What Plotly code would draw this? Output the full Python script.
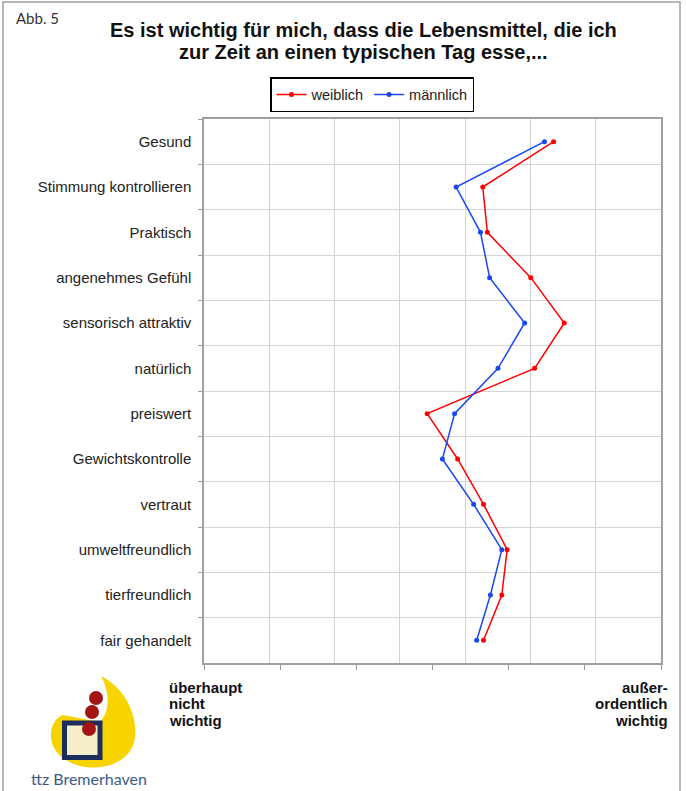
import plotly.graph_objects as go

# ---------------- data ----------------
categories = ["Gesund", "Stimmung kontrollieren", "Praktisch", "angenehmes Gefühl",
              "sensorisch attraktiv", "natürlich", "preiswert", "Gewichtskontrolle",
              "vertraut", "umweltfreundlich", "tierfreundlich", "fair gehandelt"]
weiblich = [5.59, 4.66, 4.72, 5.29, 5.73, 5.34, 3.93, 4.33, 4.67, 4.98, 4.91, 4.67]
maennlich = [5.47, 4.31, 4.63, 4.75, 5.21, 4.86, 4.29, 4.13, 4.54, 4.91, 4.76, 4.58]
x_ticks = [1, 2, 3, 4, 5, 6, 7]
series_names = ["weiblich", "männlich"]
title_lines = ["Es ist wichtig für mich, dass die Lebensmittel, die ich",
               "zur Zeit an einen typischen Tag esse,..."]
label_low = ["überhaupt", "nicht", "wichtig"]
label_high = ["außer-", "ordentlich", "wichtig"]

# ---------------- geometry helpers (decoration placement) ----------------
W, H = 686, 791
L, R, T, B = 204, 661, 119, 663


def px(x):
    return (x - L) / (R - L)


def py(y):
    return (B - y) / (B - T)


FONT = "Liberation Sans, Arial, sans-serif"
RED = "#ff0000"
BLUE = "#1a47f0"

fig = go.Figure()
fig.add_trace(go.Scatter(x=weiblich, y=categories, mode="lines+markers", name=series_names[0],
                         line=dict(color=RED, width=1.5), marker=dict(size=5, color=RED)))
fig.add_trace(go.Scatter(x=maennlich, y=categories, mode="lines+markers", name=series_names[1],
                         line=dict(color=BLUE, width=1.5), marker=dict(size=5, color=BLUE)))

n = len(categories)
fig.update_layout(
    width=W, height=H,
    margin=dict(l=L, r=W - R, t=T, b=H - B),
    paper_bgcolor="white", plot_bgcolor="white",
    font=dict(family=FONT, size=15, color="#222"),
    showlegend=True,
    legend=dict(orientation="h", x=px(372), xanchor="center", y=py(77), yanchor="top",
                bordercolor="#000", borderwidth=1.5, font=dict(size=14.5, color="#222"),
                itemwidth=30, bgcolor="white"),
    xaxis=dict(range=[1, 7], tickvals=x_ticks, showticklabels=False, ticks="outside",
               ticklen=5, tickcolor="#999", showgrid=False, zeroline=False,
               showline=True, linecolor="#a0a0a0", linewidth=1.5, mirror=True,
               minor=dict(tick0=1, dtick=6 / 7, showgrid=True, gridcolor="#d4d4d4",
                          gridwidth=1, ticks="")),
    yaxis=dict(type="category", categoryorder="array", categoryarray=categories,
               range=[n - 0.5, -0.5], tickson="boundaries", ticks="outside", ticklen=4,
               tickcolor="#999", showgrid=True, gridcolor="#d4d4d4", gridwidth=1,
               showline=True, linecolor="#a0a0a0", linewidth=1.5, mirror=True,
               tickfont=dict(size=15, color="#222"), ticklabelstandoff=8, zeroline=False),
)

annotations = []
for line, yy in zip(title_lines, [30, 52]):
    annotations.append(dict(text="<b>" + line + "</b>", x=px(363), y=py(yy), xanchor="center",
                            yanchor="middle", font=dict(family=FONT, size=20, color="#111")))
annotations.append(dict(text="Abb. 5", x=px(14), y=py(18), xanchor="left", yanchor="middle",
                        font=dict(family="Lato, Open Sans, sans-serif", size=15, color="#333")))
for line, yy in zip(label_low, [687, 703, 720]):
    annotations.append(dict(text="<b>" + line + "</b>", x=px(167), y=py(yy), xanchor="left",
                            yanchor="middle", font=dict(family=FONT, size=15, color="#111")))
for line, yy in zip(label_high, [687, 703, 720]):
    annotations.append(dict(text="<b>" + line + "</b>", x=px(670), y=py(yy), xanchor="right",
                            yanchor="middle", font=dict(family=FONT, size=15, color="#111")))
annotations.append(dict(text="ttz Bremerhaven", x=px(29), y=py(778), xanchor="left",
                        yanchor="middle",
                        font=dict(family="Lato, Open Sans, sans-serif", size=16, color="#3b5b8a")))
for a in annotations:
    a.update(xref="paper", yref="paper", showarrow=False)
fig.update_layout(annotations=annotations)


def path(cmds):
    out = []
    for cmd in cmds:
        if isinstance(cmd, str):
            out.append(cmd)
        else:
            out.append(f"{px(cmd[0]):.5f},{py(cmd[1]):.5f}")
    return " ".join(out)


yellow = path(["M", (101, 676), "C", (122, 686), (138, 712), (135, 738),
               "C", (132, 760), (108, 770), (85, 767), "C", (66, 764), (52, 752), (51, 738),
               "C", (50, 727), (55, 718), (63, 715), "L", (100, 722),
               "C", (110, 712), (110, 692), (101, 676), "Z"])

shapes = [
    dict(type="rect", xref="paper", yref="paper", x0=px(3), x1=px(680), y0=py(2), y1=py(830),
         line=dict(color="#a0a0a0", width=1.5), layer="below"),
    dict(type="path", xref="paper", yref="paper", path=yellow,
         fillcolor="#f7d300", line=dict(width=0)),
    dict(type="rect", xref="paper", yref="paper", x0=px(64.5), x1=px(100), y0=py(723),
         y1=py(757.5), fillcolor="#f5efc8", line=dict(color="#1c2f5c", width=5)),
    dict(type="circle", xref="paper", yref="paper", x0=px(89), x1=px(103), y0=py(691), y1=py(705),
         fillcolor="#a31414", line=dict(width=0)),
    dict(type="circle", xref="paper", yref="paper", x0=px(85), x1=px(99), y0=py(705), y1=py(719),
         fillcolor="#a31414", line=dict(width=0)),
    dict(type="circle", xref="paper", yref="paper", x0=px(82), x1=px(96), y0=py(722), y1=py(736),
         fillcolor="#a31414", line=dict(width=0)),
]
fig.update_layout(shapes=shapes)

fig.write_html("out.html", config={"displayModeBar": False},
               post_script="document.body.style.margin='0';document.body.style.overflow='hidden';")
